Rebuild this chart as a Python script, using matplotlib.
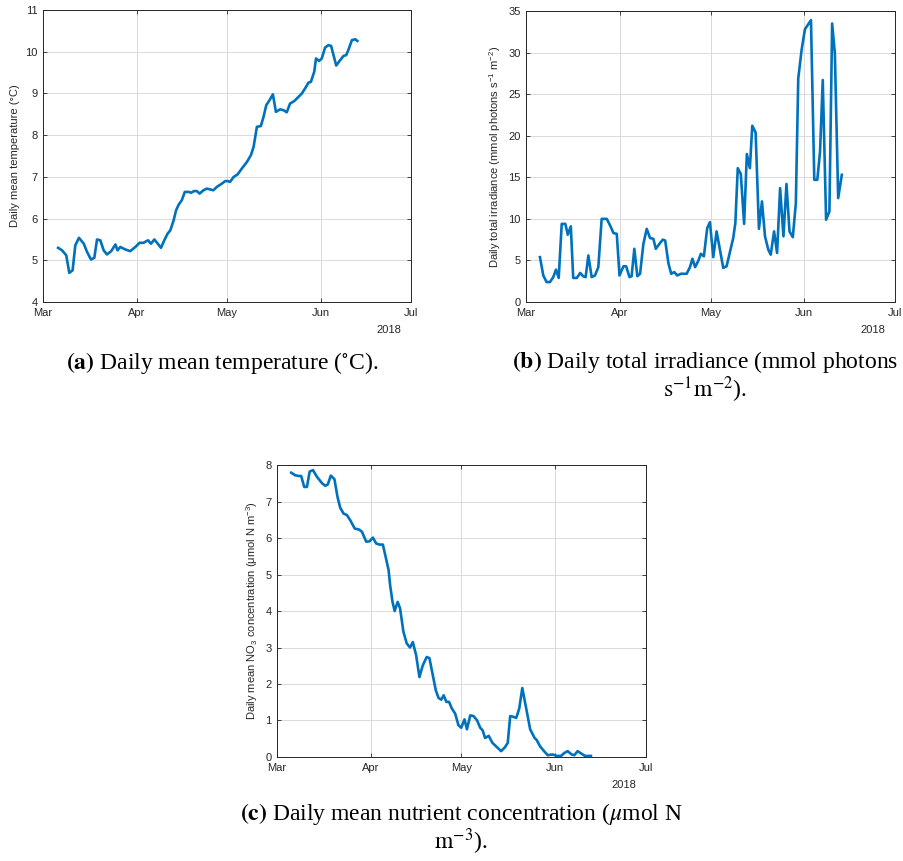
import numpy as np
import matplotlib
matplotlib.use('Agg')
import matplotlib.pyplot as plt
import matplotlib.dates as mdates
from datetime import datetime

# days after 1 March 2018 and the values
temp_day = [5.0, 6.3, 7.7, 8.7, 9.8, 10.7, 11.9, 13.5, 14.6, 15.9, 17.0, 17.9, 19.0, 20.1, 21.2,
            22.6, 24.0, 24.7, 25.6, 27.3, 28.9, 30.6, 32.0, 33.3, 34.8, 35.8, 36.9, 37.8, 39.1,
            40.2, 41.3, 42.2, 43.3, 44.1, 45.0, 46.0, 47.0, 48.3, 49.1, 50.0, 51.0, 51.9, 53.2,
            54.3, 55.4, 56.5, 57.6, 59.3, 60.4, 61.3, 62.0, 63.2, 64.5, 65.9, 67.6, 68.9, 69.8,
            70.9, 72.2, 73.1, 74.0, 75.1, 76.2, 77.2, 78.6, 79.7, 80.8, 81.9, 83.3, 84.7, 85.8,
            87.2, 88.0, 88.8, 89.9, 90.5, 91.5, 92.4, 93.5, 94.6, 95.5, 97.2, 98.5, 99.6, 100.5,
            101.2, 102.4, 103.5, 104.2]
temp_val = [5.30, 5.24, 5.12, 4.70, 4.76, 5.36, 5.54, 5.40, 5.20, 5.02, 5.06, 5.50, 5.48, 5.24, 5.14,
            5.22, 5.38, 5.24, 5.32, 5.26, 5.22, 5.32, 5.42, 5.42, 5.48, 5.40, 5.50, 5.42, 5.30,
            5.48, 5.64, 5.72, 5.96, 6.20, 6.34, 6.44, 6.64, 6.64, 6.62, 6.66, 6.66, 6.60, 6.68,
            6.72, 6.70, 6.68, 6.76, 6.84, 6.90, 6.90, 6.88, 7.00, 7.06, 7.20, 7.36, 7.52, 7.72,
            8.20, 8.22, 8.44, 8.72, 8.84, 8.98, 8.56, 8.62, 8.60, 8.55, 8.76, 8.82, 8.92, 9.00,
            9.16, 9.26, 9.28, 9.52, 9.84, 9.78, 9.84, 10.10, 10.16, 10.14, 9.67, 9.80, 9.90, 9.92,
            10.04, 10.28, 10.30, 10.26]

irr_day = [4.6, 5.7, 6.8, 7.9, 9.0, 9.9, 10.8, 11.8, 13.0, 13.8, 14.8, 15.6, 16.8, 17.9, 18.9,
           19.7, 20.6, 21.7, 22.8, 23.9, 25.0, 26.7, 27.8, 28.9, 30.0, 30.9, 32.2, 33.1, 34.2,
           34.9, 35.8, 36.8, 37.7, 38.8, 39.9, 41.0, 42.1, 42.9, 44.3, 45.2, 46.0, 47.1, 48.0,
           49.0, 50.0, 51.2, 53.1, 54.2, 55.0, 55.9, 57.0, 57.8, 58.8, 59.9, 60.8, 61.9, 63.0,
           64.1, 65.2, 66.3, 67.4, 68.5, 69.2, 70.0, 71.0, 72.1, 73.0, 74.0, 74.8, 75.9, 77.0,
           78.0, 79.0, 80.1, 80.9, 82.0, 83.0, 84.0, 85.1, 86.1, 87.1, 88.2, 89.2, 90.0, 91.1,
           92.2, 94.2, 95.3, 96.3, 97.2, 98.1, 99.2, 100.3, 101.2, 102.1, 103.2, 104.4]
irr_val = [5.4, 3.2, 2.4, 2.4, 3.0, 3.9, 2.9, 9.4, 9.4, 8.1, 9.1, 2.9, 2.9, 3.5, 3.1,
           3.0, 5.6, 3.0, 3.2, 4.2, 10.0, 10.0, 9.2, 8.3, 8.2, 3.2, 4.3, 4.3, 3.0,
           3.1, 6.4, 3.1, 3.4, 7.0, 8.8, 7.7, 7.6, 6.4, 7.1, 7.5, 7.4, 4.6, 3.4,
           3.6, 3.2, 3.4, 3.4, 4.2, 5.2, 4.2, 5.0, 5.8, 5.5, 8.9, 9.6, 5.4, 8.5,
           6.3, 4.1, 4.3, 6.0, 7.7, 9.5, 16.1, 15.4, 9.4, 17.8, 16.1, 21.2, 20.4, 8.8,
           12.1, 7.9, 6.3, 5.7, 8.5, 5.9, 13.7, 7.9, 14.2, 8.5, 7.8, 11.9, 26.9, 30.3,
           32.8, 33.9, 14.7, 14.7, 18.1, 26.7, 9.9, 10.9, 33.5, 29.9, 12.5, 15.3]

no3_day = [4.7, 6.0, 7.2, 8.0, 9.0, 9.9, 10.8, 11.9, 13.2, 14.9, 16.0, 16.8, 17.8, 19.0, 20.0,
           20.9, 22.0, 23.1, 24.2, 25.7, 27.2, 28.1, 29.5, 30.6, 31.7, 32.8, 33.9, 35.0, 35.8,
           36.9, 37.4, 38.2, 38.9, 39.9, 40.7, 41.8, 42.9, 44.0, 44.9, 46.0, 47.1, 48.2, 49.5,
           50.4, 51.4, 52.5, 53.4, 54.3, 55.1, 56.0, 56.9, 57.8, 58.9, 60.0, 60.9, 62.0, 62.8,
           63.9, 65.0, 66.1, 67.2, 68.0, 68.8, 70.0, 71.2, 72.7, 74.1, 75.4, 76.3, 77.1, 78.2,
           79.1, 80.1, 81.1, 82.4, 83.7, 85.1, 85.9, 87.0, 88.3, 89.5, 91.1, 92.5, 93.9, 95.0,
           96.1, 97.4, 98.3, 99.4, 100.7, 101.8, 103.8]
no3_val = [7.79, 7.72, 7.70, 7.70, 7.40, 7.40, 7.82, 7.86, 7.68, 7.50, 7.43, 7.47, 7.71, 7.61, 7.13,
           6.83, 6.67, 6.63, 6.49, 6.26, 6.23, 6.17, 5.90, 5.91, 6.01, 5.85, 5.82, 5.82, 5.53,
           5.12, 4.71, 4.25, 4.00, 4.25, 4.07, 3.43, 3.11, 3.00, 3.15, 2.79, 2.19, 2.51, 2.74,
           2.71, 2.29, 1.83, 1.62, 1.57, 1.69, 1.51, 1.51, 1.33, 1.19, 0.87, 0.80, 1.03, 0.76,
           1.14, 1.12, 1.01, 0.80, 0.73, 0.52, 0.58, 0.39, 0.27, 0.16, 0.27, 0.39, 1.12, 1.10,
           1.07, 1.33, 1.89, 1.33, 0.76, 0.53, 0.46, 0.29, 0.16, 0.05, 0.07, 0.03, 0.03, 0.11,
           0.16, 0.07, 0.05, 0.16, 0.09, 0.03, 0.03]

plt.rcParams['font.family'] = ['Liberation Sans', 'DejaVu Sans']
plt.rcParams['font.size'] = 8

line_col = '#0072BD'
ink = '#262626'
start = mdates.date2num(datetime(2018, 3, 1))
end = mdates.date2num(datetime(2018, 7, 1))

fig = plt.figure(figsize=(9.04, 8.61), dpi=100)
ax_a = fig.add_axes([0.0476, 0.6492, 0.4071, 0.3391])
ax_b = fig.add_axes([0.5819, 0.6492, 0.4082, 0.3380])
ax_c = fig.add_axes([0.3064, 0.1208, 0.4082, 0.3391])


def style(ax, days, vals, ylim, ystep, ylabel):
    ax.plot(start + np.array(days), vals, color=line_col, linewidth=1.9)
    ax.set_xlim(start, end)
    ax.set_ylim(*ylim)
    ax.set_yticks(np.arange(ylim[0], ylim[1] + ystep / 2, ystep))
    ax.xaxis.set_major_locator(mdates.MonthLocator())
    ax.xaxis.set_major_formatter(mdates.DateFormatter('%b'))
    ax.grid(True, color='#dadada', linewidth=0.7)
    ax.set_axisbelow(True)
    ax.tick_params(direction='in', top=True, right=True, length=3, width=0.6,
                   colors=ink, labelsize=8, pad=4)
    for s in ax.spines.values():
        s.set_color(ink)
        s.set_linewidth(0.7)
    ax.set_ylabel(ylabel, color=ink, fontsize=8, labelpad=4)
    ax.text(0.94, -0.095, '2018', transform=ax.transAxes, ha='center', va='center',
            color=ink, fontsize=8)


style(ax_a, temp_day, temp_val, (4, 11), 1, 'Daily mean temperature (°C)')
style(ax_b, irr_day, irr_val, (0, 35), 5,
      r'Daily total irradiance (mmol photons s$^{\mathregular{-1}}$ m$^{\mathregular{-2}}$)')
style(ax_c, no3_day, no3_val, (0, 8), 1,
      r'Daily mean NO$_{\mathregular{3}}$ concentration (μmol N m$^{\mathregular{-3}}$)')

# captions under each panel, the long ones wrapped onto two centred lines
cap = dict(ha='center', va='center', fontsize=17, family='Liberation Serif',
           math_fontfamily='stix', multialignment='center', linespacing=0.98)
fig.text(0.2456, 0.5784, r'$\mathbf{(a)}$ Daily mean temperature ($^{\circ}$C).', **cap)
fig.text(0.7800, 0.5625,
         '$\\mathbf{(b)}$ Daily total irradiance (mmol photons\n'
         '$\\mathrm{s}^{-1}\\mathrm{m}^{-2}$).', **cap)
fig.text(0.5100, 0.0370,
         '$\\mathbf{(c)}$ Daily mean nutrient concentration ($\\mu$mol N\n'
         '$\\mathrm{m}^{-3}$).', **cap)

fig.savefig('out.png', dpi=100)
